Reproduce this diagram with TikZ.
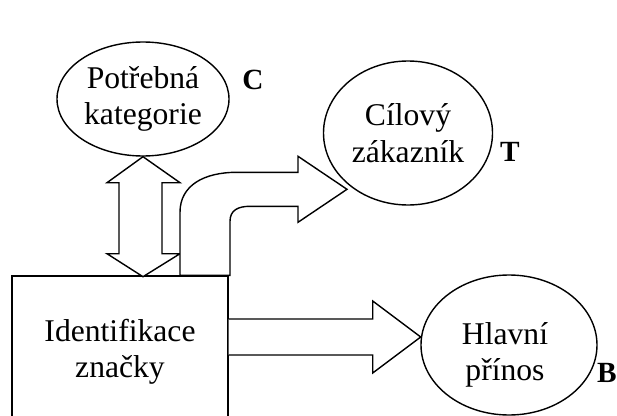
\documentclass[tikz,border=0pt]{standalone}
\usepackage{fontspec}
\setmainfont{Liberation Serif}
\usetikzlibrary{shapes.geometric,calc}
\tikzset{
  bubble/.style={draw, ellipse, inner sep=0pt, align=center, font=\fontsize{27}{31}\selectfont},
  txt/.style={inner sep=0pt, align=center, font=\fontsize{27}{31}\selectfont},
  tag/.style={inner sep=0pt, font=\bfseries\fontsize{25}{29}\selectfont},
  block/.style={draw, line width=1.2pt, line join=miter, fill=white}
}
\begin{document}
\begin{tikzpicture}[x=0.3mm,y=-0.3mm,line width=1.2pt]
\useasboundingbox (0,0) rectangle (617,416);
\clip (0,0) rectangle (617,416);
\node[bubble, minimum width=51.6mm, minimum height=34.2mm] (pot) at (143,99) {Potřebná\\kategorie};
\node[bubble, minimum width=50.7mm, minimum height=43.2mm] (cil) at (408,133) {Cílový\\zákazník};
\node[bubble, minimum width=52.8mm, minimum height=42mm] (hlav) at (509,345) {};
\node[txt] (hlavtxt) at (505,355) {Hlavní\\přínos};
\node[draw, txt, minimum width=64.8mm, minimum height=45.6mm] (box) at (120,352) {Identifikace\\značky};
\node[tag] (c) at (253,80) {C};
\node[tag] (t) at (510,152) {T};
\node[tag] (b) at (607,373) {B};
% sipky
\draw[block] (pot.south) -- ++(37,26) -- ++(-18,0) -- ++(0,71) -- ++(18,0) -- ++(-37,23)
  -- ++(-36,-23) -- ++(12,0) -- ++(0,-71) -- ++(-12,0) -- cycle;
\draw[block] ($(box.north)+(60,0)$) -- ++(0,-63) .. controls +(0,-27) and +(-33,0) .. ++(57,-40)
  -- ++(61,0) -- ++(0,-16) -- ++(49,33) -- ++(-49,33) -- ++(0,-16) -- ++(-48,0)
  .. controls +(-12,0) and +(0,-11) .. ++(-20,15) -- ++(0,54) -- cycle;
\draw[block] ($(box.east)+(0,-33)$) -- ++(144,0) -- ++(0,-18) -- ++(48,36) -- ++(-48,36)
  -- ++(0,-18) -- ++(-144,0);
\end{tikzpicture}
\end{document}
